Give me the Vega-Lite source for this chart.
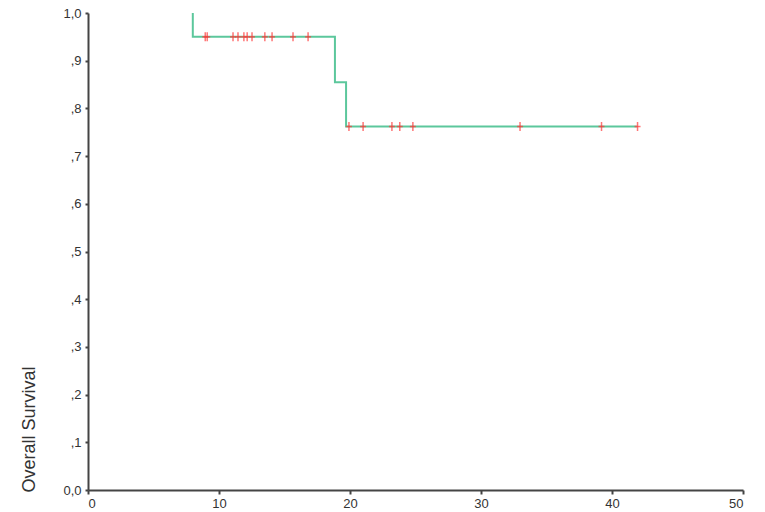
{
  "$schema": "https://vega.github.io/schema/vega-lite/v6.json",
  "width": 655,
  "height": 477,
  "autosize": "none",
  "padding": {"left": 88, "top": 13, "right": 22, "bottom": 22},
  "background": "white",
  "config": {
    "view": {"stroke": null},
    "font": "Liberation Sans",
    "axis": {
      "grid": false,
      "domainColor": "#444",
      "domainWidth": 2,
      "tickColor": "#444",
      "tickSize": 3,
      "tickWidth": 2,
      "labelColor": "#333",
      "labelFont": "Liberation Sans",
      "labelFontSize": 13,
      "titleFont": "Liberation Sans",
      "titleColor": "#333",
      "titleFontWeight": "normal"
    }
  },
  "datasets": {
    "curve": [
      {"time": 8.0, "survival": 1.0},
      {"time": 8.0, "survival": 0.95},
      {"time": 18.85, "survival": 0.855},
      {"time": 19.7, "survival": 0.762},
      {"time": 41.9, "survival": 0.762}
    ],
    "censored": [
      {"time": 8.95, "survival": 0.95},
      {"time": 9.1, "survival": 0.95},
      {"time": 11.07, "survival": 0.95},
      {"time": 11.45, "survival": 0.95},
      {"time": 11.9, "survival": 0.95},
      {"time": 12.15, "survival": 0.95},
      {"time": 12.52, "survival": 0.95},
      {"time": 13.5, "survival": 0.95},
      {"time": 14.05, "survival": 0.95},
      {"time": 15.65, "survival": 0.95},
      {"time": 16.8, "survival": 0.95},
      {"time": 19.92, "survival": 0.762},
      {"time": 21.0, "survival": 0.762},
      {"time": 23.2, "survival": 0.762},
      {"time": 23.8, "survival": 0.762},
      {"time": 24.8, "survival": 0.762},
      {"time": 32.98, "survival": 0.762},
      {"time": 39.2, "survival": 0.762},
      {"time": 41.95, "survival": 0.762}
    ]
  },
  "layer": [
    {
      "data": {"name": "curve"},
      "mark": {"type": "line", "interpolate": "step-after", "color": "#5cc79c", "strokeWidth": 2},
      "encoding": {
        "x": {
          "field": "time", "type": "quantitative",
          "scale": {"domain": [0, 50], "nice": false, "zero": true},
          "axis": {"values": [0, 10, 20, 30, 40, 50], "title": null, "labelPadding": 3, "tickSize": 4}
        },
        "y": {
          "field": "survival", "type": "quantitative",
          "scale": {"domain": [0, 1], "nice": false},
          "axis": {
            "values": [0, 0.1, 0.2, 0.3, 0.4, 0.5, 0.6, 0.7, 0.8, 0.9, 1.0],
            "labelExpr": "datum.value == 0 ? '0,0' : datum.value >= 0.999 ? '1,0' : ',' + format(datum.value * 10, '.0f')",
            "labelPadding": 4,
            "title": "Overall Survival",
            "titleFontSize": 18,
            "titleAngle": 270,
            "titleAnchor": "start",
            "titleAlign": "left",
            "titleBaseline": "middle",
            "titleX": -59,
            "titleY": 479
          }
        }
      }
    },
    {
      "data": {"name": "censored"},
      "mark": {"type": "tick", "orient": "vertical", "color": "#ff3b3b", "size": 9, "thickness": 1.5},
      "encoding": {
        "x": {"field": "time", "type": "quantitative"},
        "y": {"field": "survival", "type": "quantitative"}
      }
    },
    {
      "data": {"name": "censored"},
      "mark": {"type": "tick", "orient": "horizontal", "color": "#ff3b3b", "size": 6, "thickness": 1.5},
      "encoding": {
        "x": {"field": "time", "type": "quantitative"},
        "y": {"field": "survival", "type": "quantitative"}
      }
    }
  ]
}
